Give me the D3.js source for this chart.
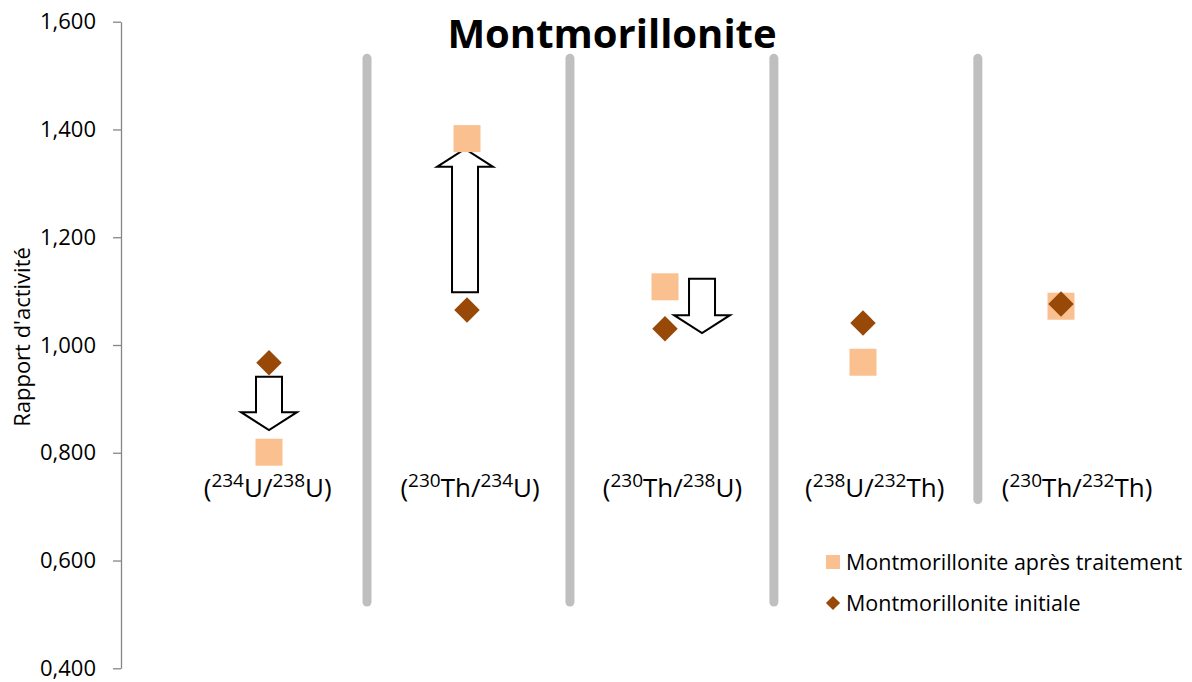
<!DOCTYPE html>
<html>
<head>
<meta charset="utf-8">
<script src="https://cdn.jsdelivr.net/npm/d3@7"></script>
<style>
body { margin: 0; background: #fff; }
text { font-family: "Open Sans", sans-serif; }
</style>
</head>
<body>
<div id="container"><svg></svg></div>
<script>
let width = 1192;
let height = 682;

// data
let categories = ['(234U/238U)', '(230Th/234U)', '(230Th/238U)', '(238U/232Th)', '(230Th/232Th)'];
let apres = [0.801, 1.383, 1.108, 0.968, 1.072];      // Montmorillonite après traitement
let initiale = [0.967, 1.065, 1.030, 1.041, 1.076];   // Montmorillonite initiale
let yTicks = [0.4, 0.6, 0.8, 1.0, 1.2, 1.4, 1.6];
// gray separators: x in category units, span in ratio units
let separators = [
    {x: 1.495, top: 1.532, bottom: 0.523},
    {x: 2.52, top: 1.532, bottom: 0.523},
    {x: 3.55, top: 1.532, bottom: 0.523},
    {x: 4.58, top: 1.532, bottom: 0.713}
];
// hollow arrows (from -> to, ratio units)
let arrows = [
    {cat: 1, shift: 0, from: 0.941, to: 0.842},
    {cat: 2, shift: -0.01, from: 1.098, to: 1.364},
    {cat: 3, shift: 0.187, from: 1.123, to: 1.022}
];
let legendItems = ['Montmorillonite après traitement', 'Montmorillonite initiale'];
let colors = {apres: '#fac090', initiale: '#984807'};

let svg, xScale, yScale;

function draw() {
    xScale = d3.scaleLinear().domain([0.2525, 5.596]).range([121, 1179]);
    yScale = d3.scaleLinear().domain([0.4, 1.6]).range([668.3, 21.7]);

    let fr = d3.formatLocale({decimal: ',', thousands: ' ', grouping: [3]}).format('.3f');

    // y axis
    let yAxis = svg.append('g')
        .attr('transform', `translate(${xScale.range()[0]},0)`)
        .call(d3.axisLeft(yScale).tickValues(yTicks).tickFormat(fr).tickSize(8).tickSizeOuter(0).tickPadding(17));
    yAxis.select('.domain').attr('stroke', '#868686').attr('stroke-width', 1.3);
    yAxis.selectAll('.tick line').attr('stroke', '#868686').attr('stroke-width', 1.3);
    yAxis.selectAll('.tick text')
        .attr('fill', '#000')
        .style('font-family', '"Open Sans", sans-serif')
        .style('font-size', '22px');

    svg.append('text')
        .attr('transform', `translate(30,${yScale(1.0) - 8}) rotate(-90)`)
        .attr('text-anchor', 'middle')
        .style('font-size', '22px')
        .text("Rapport d'activité");

    // title
    svg.append('text')
        .attr('x', 612)
        .attr('y', 48)
        .attr('text-anchor', 'middle')
        .style('font-size', '40px')
        .style('font-weight', 'bold')
        .text('Montmorillonite');

    // separators
    svg.append('g')
        .selectAll('line')
        .data(separators)
        .join('line')
        .attr('x1', d => xScale(d.x))
        .attr('x2', d => xScale(d.x))
        .attr('y1', d => yScale(d.top))
        .attr('y2', d => yScale(d.bottom))
        .attr('stroke', '#bfbfbf')
        .attr('stroke-width', 9)
        .attr('stroke-linecap', 'round');

    // category labels with superscript isotopes (text boxes sit on a slightly wider pitch)
    let labelStep = 1.022;
    let labels = svg.append('g')
        .selectAll('text')
        .data(categories)
        .join('text')
        .attr('x', (d, i) => xScale(0.9934 + i * labelStep))
        .attr('y', 497)
        .attr('text-anchor', 'middle')
        .style('font-size', '26px');
    labels.each(function (d) {
        let t = d3.select(this);
        let raised = false;
        d.split(/(\d+)/).filter(s => s.length).forEach(part => {
            if (/^\d+$/.test(part)) {
                t.append('tspan').attr('dy', raised ? 0 : -10).style('font-size', '19px').text(part);
                raised = true;
            } else {
                t.append('tspan').attr('dy', raised ? 10 : 0).text(part);
                raised = false;
            }
        });
    });

    // arrows
    let shaft = 13, head = 28, headLen = 18;
    svg.append('g')
        .selectAll('path')
        .data(arrows)
        .join('path')
        .attr('d', a => {
            let cx = xScale(a.cat + a.shift);
            let y0 = yScale(a.from), y1 = yScale(a.to);
            let dir = y1 > y0 ? 1 : -1;
            let yb = y1 - dir * headLen;
            return `M${cx - shaft},${y0}L${cx + shaft},${y0}L${cx + shaft},${yb}L${cx + head},${yb}` +
                   `L${cx},${y1}L${cx - head},${yb}L${cx - shaft},${yb}Z`;
        })
        .attr('fill', '#fff')
        .attr('stroke', '#000')
        .attr('stroke-width', 2);

    // points
    let sq = 27;
    svg.append('g')
        .selectAll('rect')
        .data(apres)
        .join('rect')
        .attr('x', (d, i) => xScale(i + 1) - sq / 2)
        .attr('y', d => yScale(d) - sq / 2)
        .attr('width', sq)
        .attr('height', sq)
        .attr('fill', colors.apres);

    let dia = d3.symbol().type(d3.symbolSquare).size(18 * 18);
    svg.append('g')
        .selectAll('path')
        .data(initiale)
        .join('path')
        .attr('d', dia)
        .attr('transform', (d, i) => `translate(${xScale(i + 1)},${yScale(d)}) rotate(45)`)
        .attr('fill', colors.initiale);

    // legend
    let lg = svg.append('g').attr('transform', 'translate(833,562)');
    lg.append('rect').attr('x', -7).attr('y', -7).attr('width', 14).attr('height', 14).attr('fill', colors.apres);
    lg.append('path')
        .attr('d', d3.symbol().type(d3.symbolSquare).size(10 * 10))
        .attr('transform', 'translate(0,41) rotate(45)')
        .attr('fill', colors.initiale);
    lg.selectAll('text')
        .data(legendItems)
        .join('text')
        .attr('x', 13)
        .attr('y', (d, i) => 8 + i * 41)
        .style('font-size', '21.5px')
        .text(d => d);
}

function main() {
    svg = d3.select('#container')
        .select('svg')
        .attr('width', width)
        .attr('height', height);
    draw();
}

main();
</script>
</body>
</html>
